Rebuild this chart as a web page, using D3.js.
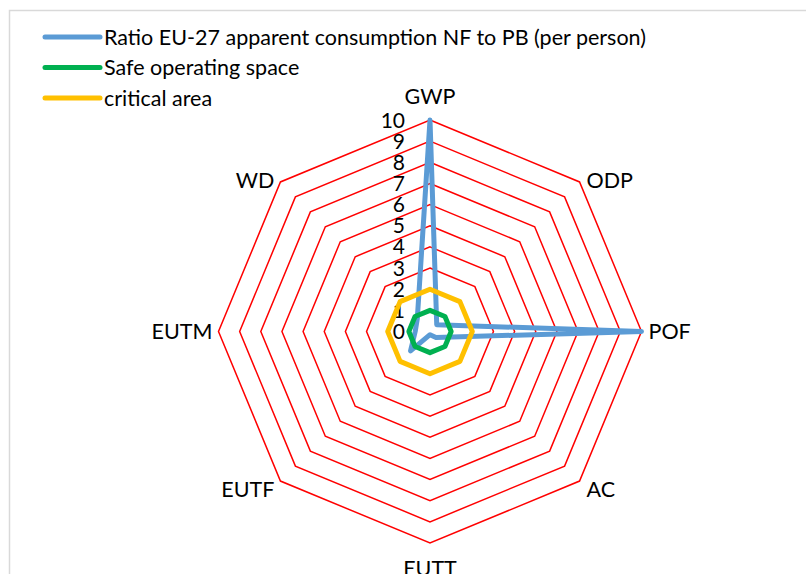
<!DOCTYPE html>
<html>
<head>
<meta charset="utf-8">
<script src="https://cdn.jsdelivr.net/npm/d3@7"></script>
<style>
  body { margin: 0; background: #fff; }
  svg text { font-family: Lato, "Open Sans", sans-serif; fill: #000; }
</style>
</head>
<body>
<svg id="chart" width="806" height="574"></svg>
<script>

const categories = ["GWP", "ODP", "POF", "AC", "EUTT", "EUTF", "EUTM", "WD"];

const ratio_values = [10, 0.45, 10, 0.4, 0.15, 1.3, 0.7, 0.85];
const safe_values = [1, 1, 1, 1, 1, 1, 1, 1];
const critical_values = [2, 2, 2, 2, 2, 2, 2, 2];

const tick_values = [0, 1, 2, 3, 4, 5, 6, 7, 8, 9, 10];

const series_names = [
    "Ratio EU-27 apparent consumption NF to PB (per person)",
    "Safe operating space",
    "critical area"
];
const series_colors = ["#5b9bd5", "#00b050", "#ffc000"];

const vis = {

    svg : d3.select("#chart"),

    cx : 430,
    cy : 331.5,
    radius : 211.5,

    r : null,
    angle : null,

    frame : {

        draw : function() {

            // only top and left edges of the chart area show in the crop
            vis.svg.append("path")
              .attr("d", "M9.5,574 V10.5 H806")
              .attr("fill", "none")
              .attr("stroke", "#d9d9d9")
              .attr("stroke-width", 1.5);

        }

    },

    scales : {

        init : function() {

            vis.r = d3.scaleLinear()
              .domain([0, 10])
              .range([0, vis.radius]);

            vis.angle = d3.scalePoint()
              .domain(categories)
              .range([0, 2 * Math.PI * (categories.length - 1) / categories.length]);

        }

    },

    point : function(cat, value) {

        const a = vis.angle(cat) - Math.PI / 2;

        return [vis.cx + vis.r(value) * Math.cos(a), vis.cy + vis.r(value) * Math.sin(a)];

    },

    grid : {

        draw : function() {

            const line = d3.line();

            vis.svg.append("g")
              .selectAll("path")
              .data(tick_values.filter(d => d > 0))
              .join("path")
              .attr("d", d => line(categories.map(c => vis.point(c, d))) + "Z")
              .attr("fill", "none")
              .attr("stroke", "#ff0000")
              .attr("stroke-width", 1.5);

        }

    },

    ticks : {

        draw : function() {

            vis.svg.append("g")
              .selectAll("text")
              .data(tick_values)
              .join("text")
              .attr("x", vis.cx - 25)
              .attr("y", d => vis.cy - vis.r(d))
              .attr("dy", "0.36em")
              .attr("text-anchor", "end")
              .attr("font-size", 21)
              .text(d => d);

        }

    },

    labels : {

        draw : function() {

            vis.svg.append("g")
              .selectAll("text")
              .data(categories)
              .join("text")
              .each(function(c) {

                  const a = vis.angle(c) - Math.PI / 2;
                  const cos = Math.cos(a), sin = Math.sin(a);
                  const [x, y] = vis.point(c, 10);

                  let anchor = "middle", dx = 0, dy = 0;

                  if (cos > 0.01) { anchor = "start"; dx = 7; }
                  if (cos < -0.01) { anchor = "end"; dx = -6; }

                  if (Math.abs(cos) < 0.01) dy = sin < 0 ? -24 : 25;
                  else if (sin < -0.01) dy = -2;
                  else if (sin > 0.01) dy = 8;

                  d3.select(this)
                    .attr("x", x + dx)
                    .attr("y", y + dy)
                    .attr("dy", "0.36em")
                    .attr("text-anchor", anchor)
                    .attr("font-size", 21.5)
                    .text(c);

              });

        }

    },

    series : {

        draw : function() {

            const line = d3.line();
            const all = [ratio_values, safe_values, critical_values];

            vis.svg.append("g")
              .selectAll("path")
              .data(all)
              .join("path")
              .attr("d", vals => line(categories.map((c, i) => vis.point(c, vals[i]))) + "Z")
              .attr("fill", "none")
              .attr("stroke", (d, i) => series_colors[i])
              .attr("stroke-width", 5)
              .attr("stroke-linejoin", "round");

        }

    },

    legend : {

        x : 45,
        y : 37,
        step : 30.5,

        draw : function() {

            const g = vis.svg.append("g");

            const rows = g.selectAll("g")
              .data(series_names)
              .join("g")
              .attr("transform", (d, i) => `translate(${this.x},${this.y + i * this.step})`);

            rows.append("line")
              .attr("x1", 0)
              .attr("x2", 55)
              .attr("stroke", (d, i) => series_colors[i])
              .attr("stroke-width", 5)
              .attr("stroke-linecap", "round");

            rows.append("text")
              .attr("x", 59)
              .attr("dy", "0.36em")
              .attr("font-size", 21.5)
              .text(d => d);

        }

    },

    ctrl : {

        init : function() {

            vis.frame.draw();
            vis.scales.init();
            vis.grid.draw();
            vis.ticks.draw();
            vis.labels.draw();
            vis.series.draw();
            vis.legend.draw();

        }

    }

}

vis.ctrl.init();
</script>
</body>
</html>
